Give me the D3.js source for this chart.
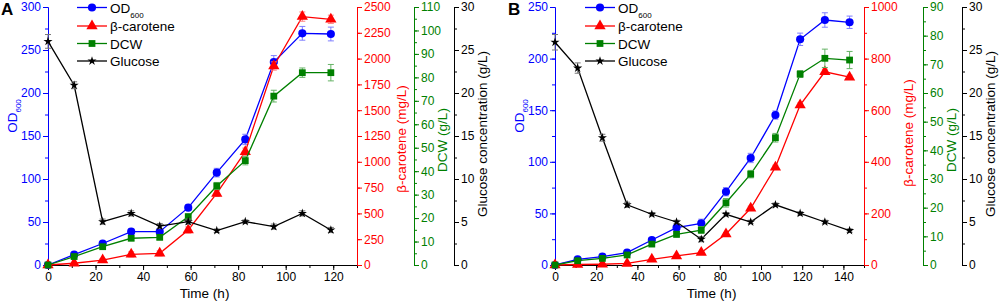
<!DOCTYPE html>
<html>
<head>
<meta charset="utf-8">
<script src="https://cdn.jsdelivr.net/npm/d3@7"></script>
<style>
body { margin: 0; background: #fff; }
text { font-family: Arial, "Liberation Sans", sans-serif; }
</style>
</head>
<body>
<svg id="chart" width="1000" height="304"></svg>
<script>
// panel A
const timeA = [0, 11, 23, 35, 47, 59, 71, 83, 95, 107, 119];
const odA = [0, 12, 25, 38.8, 38.8, 66.7, 107.4, 146, 236, 269.4, 268.6];
const odErrA = [1, 2, 2, 3, 3, 3, 5, 6, 7.5, 8, 8];
const carA = [0, 17, 48, 103, 113, 339, 694, 1098, 1928, 2407, 2381];
const carErrA = [5, 8, 15, 25, 25, 30, 30, 35, 40, 45, 40];
const dcwA = [0, 3.6, 7.8, 11.4, 11.8, 20.6, 33.7, 44.5, 72, 82, 82];
const dcwErrA = [0.3, 0.5, 0.8, 1, 1, 1.2, 1.5, 1.8, 2.5, 2, 3.5];
const gluA = [26, 20.9, 5.04, 6.0, 4.53, 5.04, 3.99, 5.04, 4.46, 6.0, 4.07];
const gluErrA = [0.8, 0.4, 0.3, 0.3, 0.3, 0.3, 0.2, 0.2, 0.3, 0.3, 0.3];

// panel B
const timeB = [0, 11, 23, 35, 47, 59, 71, 83, 95, 107, 119, 131, 143];
const odB = [0, 5.5, 8.1, 12, 24.2, 36.2, 40.4, 71, 103.7, 145.3, 218.7, 237.4, 235.2];
const odErrB = [0.5, 1, 1, 1.5, 2, 2.5, 4, 4, 4.5, 4, 6, 7, 6];
const carB = [0, 2, 3, 6, 22, 35, 48, 120, 220, 379, 620, 749, 728];
const carErrB = [1, 1, 1, 2, 3, 4, 5, 6, 8, 8, 8, 10, 8];
const dcwB = [0, 1.5, 2.3, 3.5, 7.3, 10.7, 12.2, 21.7, 31.7, 44.4, 66.6, 72.1, 71.5];
const dcwErrB = [0.2, 0.4, 0.5, 0.6, 0.8, 1, 1.2, 1.5, 1.3, 1.5, 1.2, 3.2, 3];
const gluB = [25.9, 22.9, 14.8, 7.0, 5.9, 5.0, 3.0, 5.9, 5.0, 7.0, 6.0, 5.0, 4.0];
const gluErrB = [0.9, 0.6, 0.4, 0.3, 0.2, 0.2, 0.3, 0.2, 0.2, 0.2, 0.2, 0.2, 0.2];

const seriesNames = ["OD", "β-carotene", "DCW", "Glucose"];

const svg = d3.select("#chart");
const plotTop = 7, plotBottom = 265;

const BLUE = "#0000ff", RED = "#ff0000", GREEN = "#008000", BLACK = "#000000";
const fmt = d3.format("d");

function drawPanel(p) {
    const g = svg.append("g");
    const x = d3.scaleLinear().domain([0, p.xMax]).range([p.left, p.right]);
    const yOD = d3.scaleLinear().domain([0, p.odMax]).range([plotBottom, plotTop]);
    const yCar = d3.scaleLinear().domain([0, p.carMax]).range([plotBottom, plotTop]);
    const yDcw = d3.scaleLinear().domain([0, p.dcwMax]).range([plotBottom, plotTop]);
    const yGlu = d3.scaleLinear().domain([0, 30]).range([plotBottom, plotTop]);

    // x axis
    g.append("g")
        .attr("transform", `translate(0,${plotBottom})`)
        .call(d3.axisBottom(x).tickValues(d3.range(0, p.xMax + 1, 10)).tickSize(3).tickFormat(""));
    g.append("g")
        .attr("transform", `translate(0,${plotBottom})`)
        .call(d3.axisBottom(x).tickValues(d3.range(0, p.xMax, 20)).tickSize(5).tickPadding(2).tickSizeOuter(0).tickFormat(fmt))
        .style("font-size", "12px");

    // y axes (minor and major ticks in separate groups)
    function yAxis(scale, xpos, major, minor, color, side) {
        const make = side === "left" ? d3.axisLeft : d3.axisRight;
        g.append("g")
            .attr("transform", `translate(${xpos},0)`)
            .attr("color", color)
            .call(make(scale).tickValues(minor).tickSize(3).tickFormat("").tickSizeOuter(0));
        g.append("g")
            .attr("transform", `translate(${xpos},0)`)
            .attr("color", color)
            .style("font-size", "12px")
            .call(make(scale).tickValues(major).tickSize(5).tickPadding(2).tickSizeOuter(0).tickFormat(fmt));
    }
    yAxis(yOD, p.left, d3.range(0, p.odMax + 1, 50), d3.range(0, p.odMax + 1, 25), BLUE, "left");
    yAxis(yCar, p.right, d3.range(0, p.carMax + 1, p.carStep), d3.range(0, p.carMax + 1, p.carMinor), RED, "right");
    yAxis(yDcw, p.greenX, d3.range(0, p.dcwMax + 1, 10), d3.range(0, p.dcwMax + 1, 5), GREEN, "right");
    yAxis(yGlu, p.blackX, d3.range(0, 31, 5), d3.range(0, 31, 2.5), BLACK, "right");

    // axis titles
    const odTitle = g.append("text")
        .attr("transform", `translate(${p.left - 31},116) rotate(-90)`)
        .attr("text-anchor", "middle")
        .attr("fill", BLUE)
        .style("font-size", "13.5px");
    odTitle.append("tspan").text("OD");
    odTitle.append("tspan").attr("dy", 4).style("font-size", "8px").text("600");

    const titles = [
        { text: "β-carotene (mg/L)", x: p.right + 49, y: p.carTitleY, color: RED },
        { text: "DCW (g/L)", x: p.greenX + 33, y: 140, color: GREEN },
        { text: "Glucose concentration (g/L)", x: p.blackX + 33, y: 134, color: BLACK }
    ];
    titles.forEach(t => {
        g.append("text")
            .attr("transform", `translate(${t.x},${t.y}) rotate(-90)`)
            .attr("text-anchor", "middle")
            .attr("fill", t.color)
            .style("font-size", "13.5px")
            .text(t.text);
    });

    g.append("text")
        .attr("x", (x(0) + x(p.xMax)) / 2 + p.timeShift)
        .attr("y", 298)
        .attr("text-anchor", "middle")
        .style("font-size", "13.5px")
        .text("Time (h)");

    g.append("text")
        .attr("x", p.left - 47)
        .attr("y", 15)
        .style("font-size", "17px")
        .style("font-weight", "bold")
        .text(p.letter);

    // data series
    const series = [
        { vals: p.od, err: p.odErr, y: yOD, color: BLUE, errColor: "#7f7fff", sym: d3.symbolCircle, size: 52 },
        { vals: p.car, err: p.carErr, y: yCar, color: RED, errColor: "#ff8080", sym: d3.symbolTriangle, size: 55 },
        { vals: p.dcw, err: p.dcwErr, y: yDcw, color: GREEN, errColor: "#66b366", sym: d3.symbolSquare, size: 46 },
        { vals: p.glu, err: p.gluErr, y: yGlu, color: BLACK, errColor: "#777777", sym: d3.symbolStar, size: 26 }
    ];

    series.forEach(s => {
        const pts = p.time.map((t, i) => ({ t: t, v: s.vals[i], e: s.err[i] }));
        const sg = g.append("g");
        sg.append("path")
            .datum(pts)
            .attr("fill", "none")
            .attr("stroke", s.color)
            .attr("stroke-width", 1.3)
            .attr("d", d3.line().x(d => x(d.t)).y(d => s.y(d.v)));

        const eb = sg.selectAll(".err")
            .data(pts)
            .enter()
            .append("g")
            .attr("stroke", s.errColor)
            .attr("stroke-width", 1);
        eb.append("line")
            .attr("x1", d => x(d.t)).attr("x2", d => x(d.t))
            .attr("y1", d => s.y(d.v - d.e)).attr("y2", d => s.y(d.v + d.e));
        eb.append("line")
            .attr("x1", d => x(d.t) - 3).attr("x2", d => x(d.t) + 3)
            .attr("y1", d => s.y(d.v + d.e)).attr("y2", d => s.y(d.v + d.e));
        eb.append("line")
            .attr("x1", d => x(d.t) - 3).attr("x2", d => x(d.t) + 3)
            .attr("y1", d => s.y(d.v - d.e)).attr("y2", d => s.y(d.v - d.e));

        sg.selectAll(".pt")
            .data(pts)
            .enter()
            .append("path")
            .attr("transform", d => `translate(${x(d.t)},${s.y(d.v)})`)
            .attr("d", d3.symbol().type(s.sym).size(s.size))
            .attr("fill", s.color);
    });

    // legend
    const rowY = [7.5, 26, 43.5, 61];
    series.forEach((s, i) => {
        const lg = g.append("g").attr("transform", `translate(${p.legendX},${rowY[i]})`);
        lg.append("line")
            .attr("x1", 0).attr("x2", 30)
            .attr("stroke", s.color)
            .attr("stroke-width", 1.3);
        lg.append("path")
            .attr("transform", "translate(15,0)")
            .attr("d", d3.symbol().type(s.sym).size(s.size))
            .attr("fill", s.color);
        const t = lg.append("text")
            .attr("x", 33)
            .attr("y", 5)
            .style("font-size", "13.5px");
        t.append("tspan").text(seriesNames[i]);
        if (i === 0) t.append("tspan").attr("dy", 5).style("font-size", "8px").text("600");
    });
}

drawPanel({
    letter: "A", left: 48, right: 357, greenX: 414, blackX: 454,
    xMax: 130, odMax: 300, carMax: 2500, carStep: 250, carMinor: 250, dcwMax: 110,
    carTitleY: 139, timeShift: 2, legendX: 77,
    time: timeA, od: odA, odErr: odErrA, car: carA, carErr: carErrA,
    dcw: dcwA, dcwErr: dcwErrA, glu: gluA, gluErr: gluErrA
});

drawPanel({
    letter: "B", left: 555, right: 864, greenX: 923, blackX: 962,
    xMax: 150, odMax: 250, carMax: 1000, carStep: 200, carMinor: 100, dcwMax: 90,
    carTitleY: 133, timeShift: 2, legendX: 585,
    time: timeB, od: odB, odErr: odErrB, car: carB, carErr: carErrB,
    dcw: dcwB, dcwErr: dcwErrB, glu: gluB, gluErr: gluErrB
});
</script>
</body>
</html>
